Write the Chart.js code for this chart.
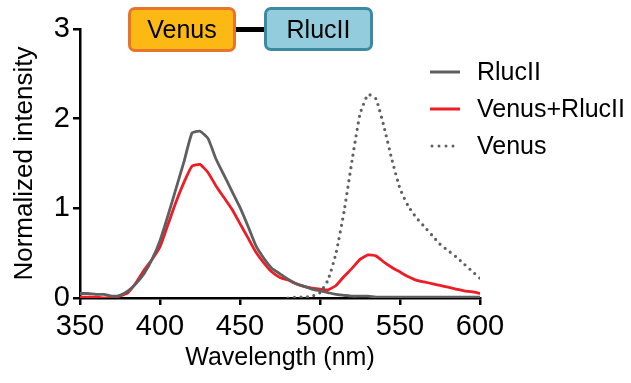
<!DOCTYPE html>
<html>
<head>
<meta charset="utf-8">
<script src="https://cdn.jsdelivr.net/npm/chart.js@4.4.1/dist/chart.umd.min.js"></script>
<style>
  body { margin: 0; background: #fff; }
  #wrap { position: relative; width: 631px; height: 383px; font-family: "Liberation Sans", Arial, sans-serif; }
  .box {
    position: absolute; box-sizing: border-box; border: 3px solid; border-radius: 7px;
    font-size: 25px; color: #000; display: flex; align-items: center; justify-content: center;
  }
  #venusBox { left: 128px; top: 7px; width: 108px; height: 45px; background: #fdb913; border-color: #e8732a; }
  #rlucBox { left: 264px; top: 7px; width: 109px; height: 44px; background: #93cddd; border-color: #3a8ba1; }
  #linker { position: absolute; left: 235px; top: 27px; width: 30px; height: 5px; background: #000; }
</style>
</head>
<body>
<div id="wrap">
  <canvas id="myChart" width="631" height="383"></canvas>
  <div id="linker"></div>
  <div class="box" id="venusBox">Venus</div>
  <div class="box" id="rlucBox">RlucII</div>
</div>
<script>
// wavelength grid (nm), 5 nm steps
const wavelengths = [
  350, 355, 360, 365, 370, 375, 380, 385, 390, 395,
  400, 405, 410, 415, 420, 425, 430, 435, 440, 445,
  450, 455, 460, 465, 470, 475, 480, 485, 490, 495,
  500, 505, 510, 515, 520, 525, 530, 535, 540, 545,
  550, 555, 560, 565, 570, 575, 580, 585, 590, 595, 600
]

const rlucII = [
  0.05, 0.05, 0.04, 0.04, 0.02, 0.03, 0.08, 0.16, 0.27, 0.43,
  0.64, 0.92, 1.22, 1.52, 1.84, 1.86, 1.78, 1.55, 1.37, 1.19,
  1.01, 0.80, 0.58, 0.44, 0.33, 0.27, 0.21, 0.16, 0.13, 0.10,
  0.08, 0.06, 0.04, 0.03, 0.02, 0.02, 0.02, 0.01, 0.01, 0.01,
  0.01, 0.01, 0.01, 0.01, 0.01, 0.01, 0.01, 0.01, 0.01, 0.01, 0.01
]

const venusRlucII = [
  0.01, 0.01, 0.01, 0.00, 0.01, 0.02, 0.06, 0.17, 0.31, 0.43,
  0.57, 0.82, 1.07, 1.29, 1.47, 1.49, 1.40, 1.25, 1.12, 0.99,
  0.83, 0.67, 0.51, 0.39, 0.29, 0.23, 0.20, 0.16, 0.13, 0.11,
  0.10, 0.09, 0.14, 0.24, 0.33, 0.43, 0.48, 0.47, 0.40, 0.34,
  0.29, 0.24, 0.20, 0.18, 0.16, 0.14, 0.12, 0.10, 0.08, 0.07, 0.05
]

// Venus only measured from 480 nm
const venus = [
  null, null, null, null, null, null, null, null, null, null,
  null, null, null, null, null, null, null, null, null, null,
  null, null, null, null, null, null, 0.00, 0.01, 0.01, 0.02,
  0.06, 0.20, 0.50, 0.96, 1.53, 2.05, 2.27, 2.22, 1.91, 1.54,
  1.22, 1.03, 0.90, 0.80, 0.70, 0.60, 0.53, 0.46, 0.38, 0.30, 0.22
]

const xTicks = [350, 400, 450, 500, 550, 600]
const yTicks = [0, 1, 2, 3]

const FONT = '"Liberation Sans", Arial, sans-serif'
const GRAY = '#5f5f5f'
const RED = '#ee1c25'

const toPoints = (vals) => wavelengths.map((w, i) => ({ x: w, y: vals[i] }))

// legend drawn by hand so it can sit over the plot's upper right
const legendItems = [
  { text: 'RlucII', color: GRAY, dash: [], cap: 'butt', width: 3 },
  { text: 'Venus+RlucII', color: RED, dash: [], cap: 'butt', width: 3 },
  { text: 'Venus', color: GRAY, dash: [0, 7], cap: 'round', width: 3 },
]

const sideLegend = {
  id: 'sideLegend',
  afterDraw(chart) {
    const ctx = chart.ctx
    ctx.save()
    legendItems.forEach((item, i) => {
      const y = 72 + i * 37
      ctx.beginPath()
      ctx.strokeStyle = item.color
      ctx.lineWidth = item.width
      ctx.lineCap = item.cap
      ctx.setLineDash(item.dash)
      ctx.moveTo(item.cap === 'round' ? 432 : 430, y)
      ctx.lineTo(460, y)
      ctx.stroke()
      ctx.setLineDash([])
      ctx.fillStyle = '#000'
      ctx.font = '25px ' + FONT
      ctx.textBaseline = 'middle'
      ctx.fillText(item.text, 477, y + 1)
    })
    ctx.restore()
  },
}

const ctx = document.getElementById('myChart').getContext('2d')

new Chart(ctx, {
  type: 'line',
  data: {
    datasets: [
      {
        label: 'Venus',
        data: toPoints(venus),
        borderColor: GRAY,
        borderWidth: 3.2,
        borderDash: [0, 6.5],
        borderCapStyle: 'round',
        pointRadius: 0,
        tension: 0.15,
        spanGaps: false,
      },
      {
        label: 'RlucII',
        data: toPoints(rlucII),
        borderColor: GRAY,
        borderWidth: 2.8,
        pointRadius: 0,
        tension: 0.15,
      },
      {
        label: 'Venus+RlucII',
        data: toPoints(venusRlucII),
        borderColor: RED,
        borderWidth: 2.8,
        pointRadius: 0,
        tension: 0.15,
      },
    ],
  },
  options: {
    responsive: false,
    animation: false,
    layout: { padding: { top: 29, right: 151, left: 0, bottom: 0 } },
    plugins: { legend: { display: false }, tooltip: { enabled: false } },
    scales: {
      x: {
        type: 'linear',
        min: 350,
        max: 600,
        afterFit: (s) => { s.height = 85 },
        afterBuildTicks: (s) => { s.ticks = xTicks.map((v) => ({ value: v })) },
        ticks: { color: '#000', font: { family: FONT, size: 29 }, padding: 5, maxRotation: 0 },
        grid: { drawOnChartArea: false, drawTicks: true, tickLength: 7, color: '#000', lineWidth: 2.5 },
        border: { display: true, color: '#000', width: 2.5 },
        title: { display: true, text: 'Wavelength (nm)', color: '#000', font: { family: FONT, size: 25 }, padding: { bottom: 10 } },
      },
      y: {
        min: 0,
        max: 3,
        afterFit: (s) => { s.width = 80 },
        afterBuildTicks: (s) => { s.ticks = yTicks.map((v) => ({ value: v })) },
        ticks: { color: '#000', font: { family: FONT, size: 29 }, padding: 3 },
        grid: { drawOnChartArea: false, drawTicks: true, tickLength: 7, color: '#000', lineWidth: 2.5 },
        border: { display: true, color: '#000', width: 2.5 },
        title: { display: true, text: 'Normalized intensity', color: '#000', font: { family: FONT, size: 26 }, padding: { top: 9 } },
      },
    },
  },
  plugins: [sideLegend],
})
</script>
</body>
</html>
